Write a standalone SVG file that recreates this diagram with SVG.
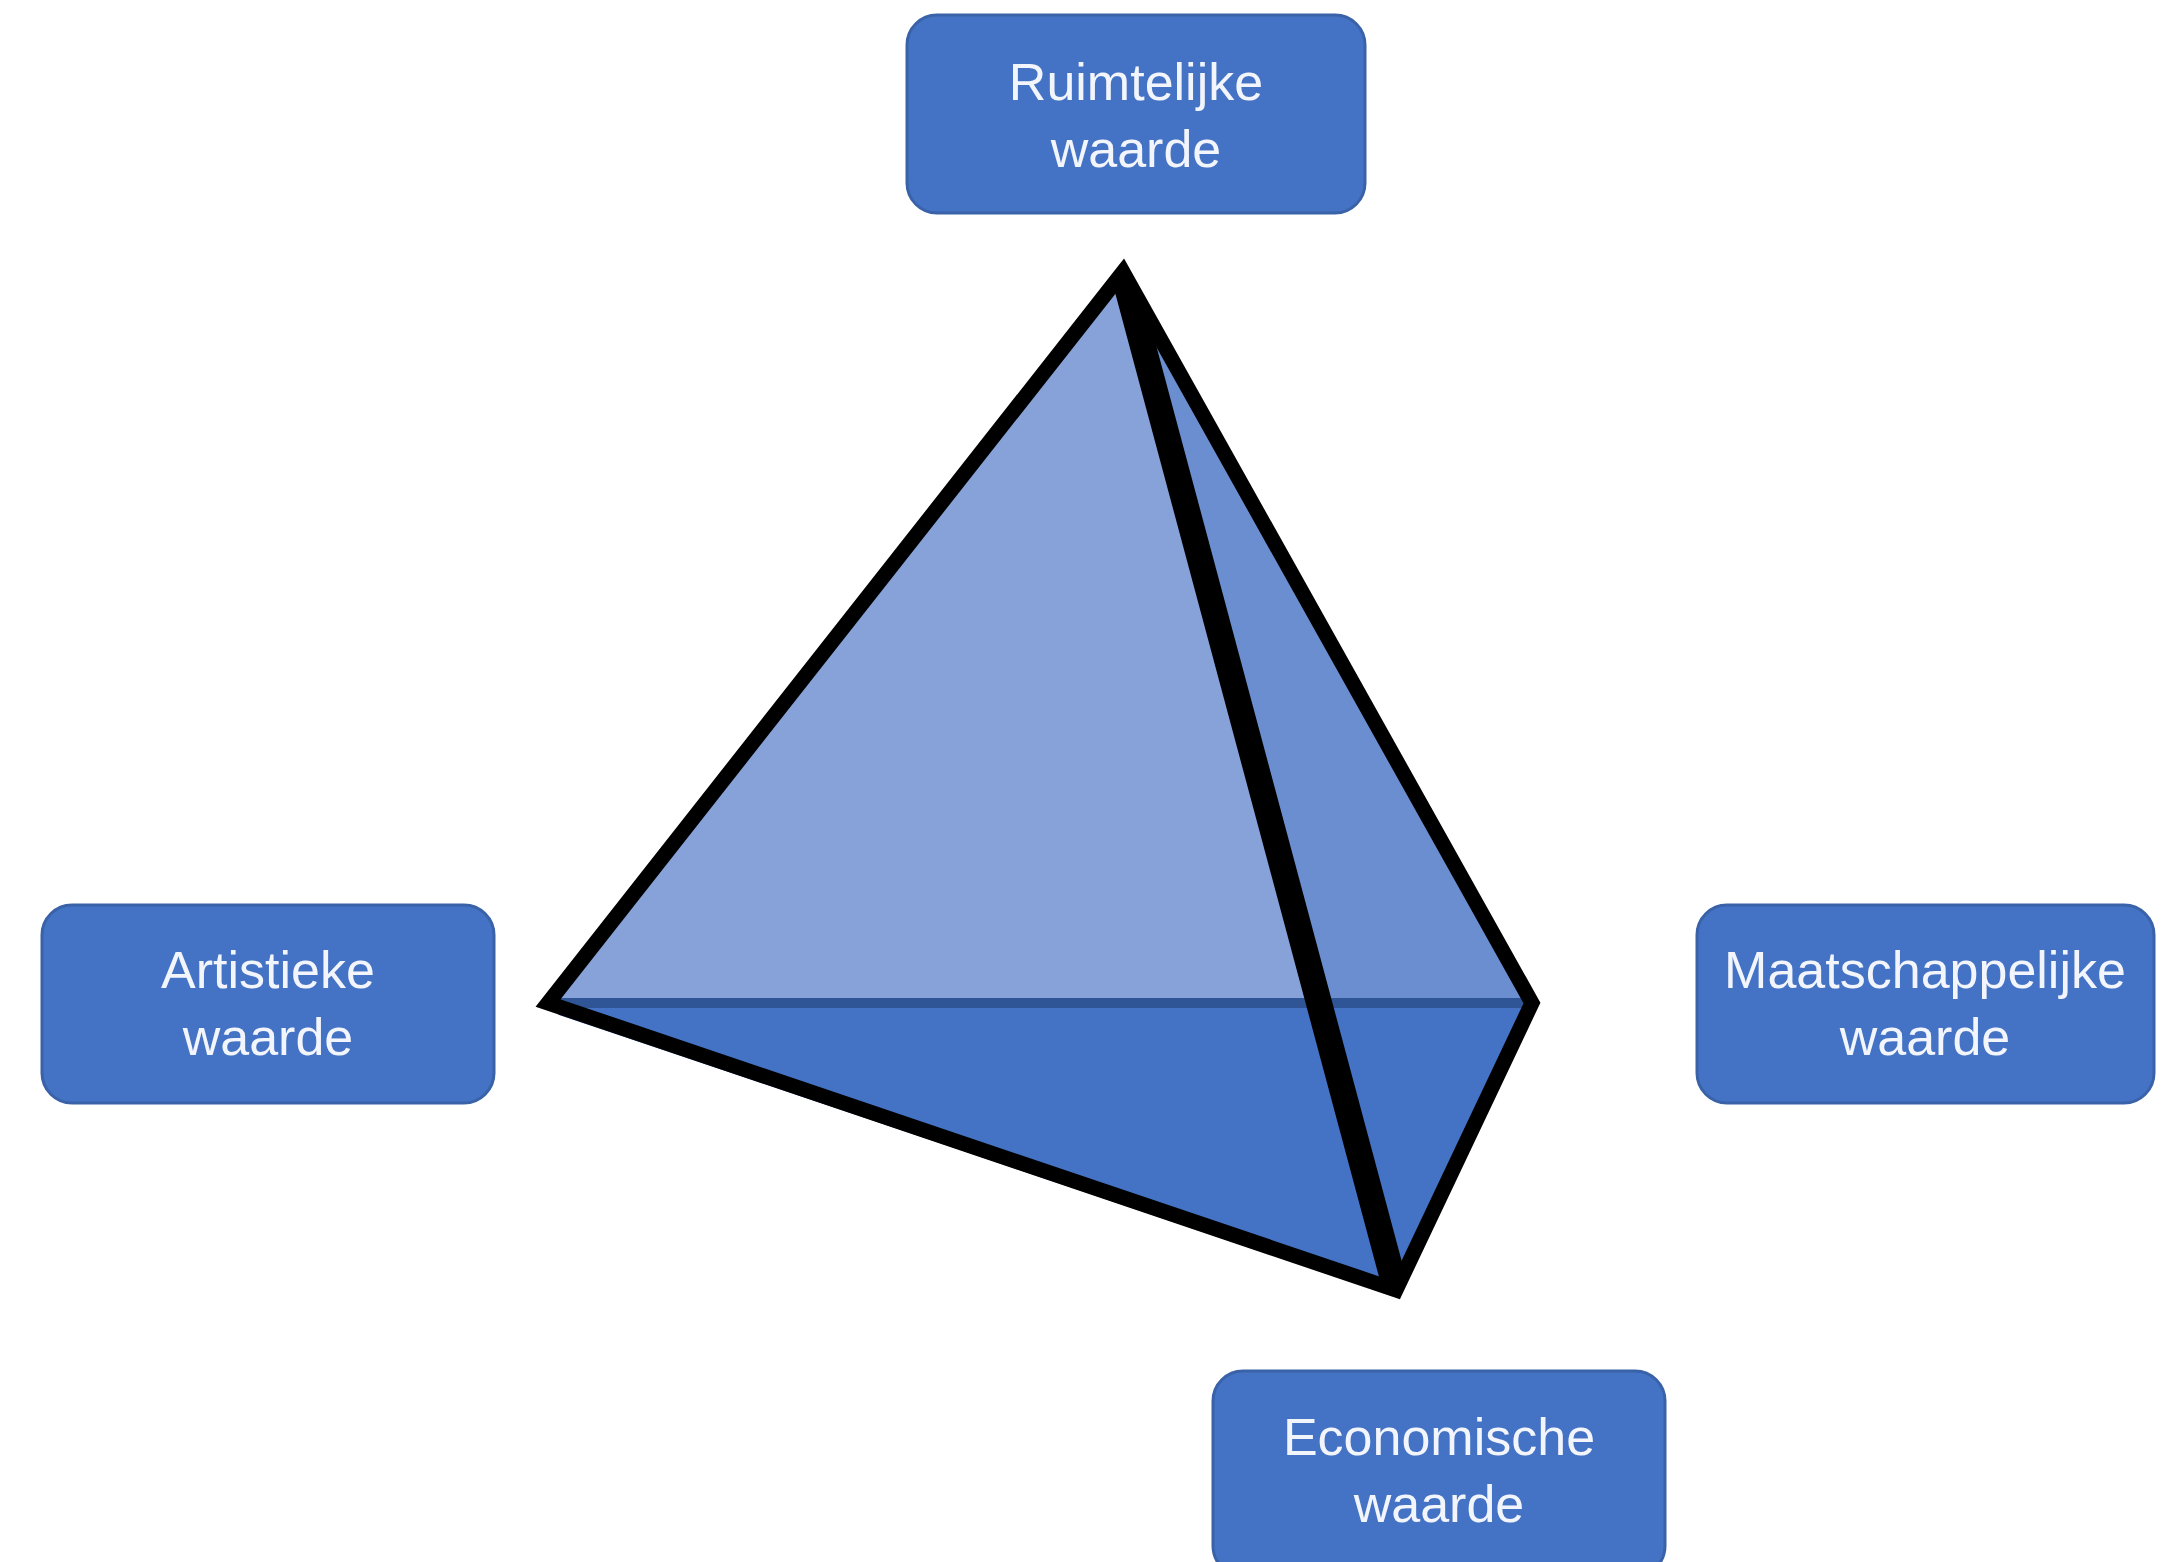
<svg xmlns="http://www.w3.org/2000/svg" width="2172" height="1562" viewBox="0 0 2172 1562">
  <style>
    .box { fill: #4472c4; stroke: #3a62a8; stroke-width: 3; }
    .lbl { font-family: "Liberation Sans", Arial, sans-serif; font-size: 52px; fill: #f2f5fc; text-anchor: middle; }
    .edge { fill: none; stroke: #000000; stroke-linejoin: miter; stroke-miterlimit: 10; }
  </style>
  <defs>
    <clipPath id="tetraClip">
      <polygon points="1123,272 548,1003 1396,1290 1532,1003"/>
    </clipPath>
  </defs>
  <rect width="2172" height="1562" fill="#ffffff"/>

  <g id="tetrahedron">
    <!-- back face (light) -->
    <polygon points="1123,272 548,1003 1532,1003" fill="#86a2d8"/>
    <!-- right face upper part (medium) -->
    <polygon points="1123,272 1316,1003 1532,1003" fill="#6a8ecf"/>
    <!-- base face (dark) -->
    <polygon points="548,1003 1532,1003 1396,1290" fill="#4472c4"/>
    <!-- horizontal hidden edge -->
    <line x1="548" y1="1003" x2="1532" y2="1003" stroke="#2f5597" stroke-width="10"/>
    <!-- inner shading along left-bottom edge -->
    <line x1="560" y1="1010" x2="1385" y2="1288" stroke="#2f5597" stroke-width="10"/>
    <!-- front edge (thick) -->
    <g clip-path="url(#tetraClip)">
      <line x1="1097" y1="175" x2="1422" y2="1387" stroke="#000000" stroke-width="26"/>
    </g>
    <!-- outline -->
    <polygon class="edge" points="1123,272 548,1003 1396,1290 1532,1003" stroke-width="15"/>
  </g>

  <g id="node-ruimtelijke">
    <rect class="box" x="907" y="15" width="458" height="198" rx="30"/>
    <text class="lbl" x="1136" y="100">Ruimtelijke</text>
    <text class="lbl" x="1136" y="167">waarde</text>
  </g>

  <g id="node-artistieke">
    <rect class="box" x="42" y="905" width="452" height="198" rx="30"/>
    <text class="lbl" x="268" y="988">Artistieke</text>
    <text class="lbl" x="268" y="1055">waarde</text>
  </g>

  <g id="node-maatschappelijke">
    <rect class="box" x="1697" y="905" width="457" height="198" rx="30"/>
    <text class="lbl" x="1925" y="988">Maatschappelijke</text>
    <text class="lbl" x="1925" y="1055">waarde</text>
  </g>

  <g id="node-economische">
    <rect class="box" x="1213" y="1371" width="452" height="205" rx="30"/>
    <text class="lbl" x="1439" y="1455">Economische</text>
    <text class="lbl" x="1439" y="1522">waarde</text>
  </g>
</svg>
